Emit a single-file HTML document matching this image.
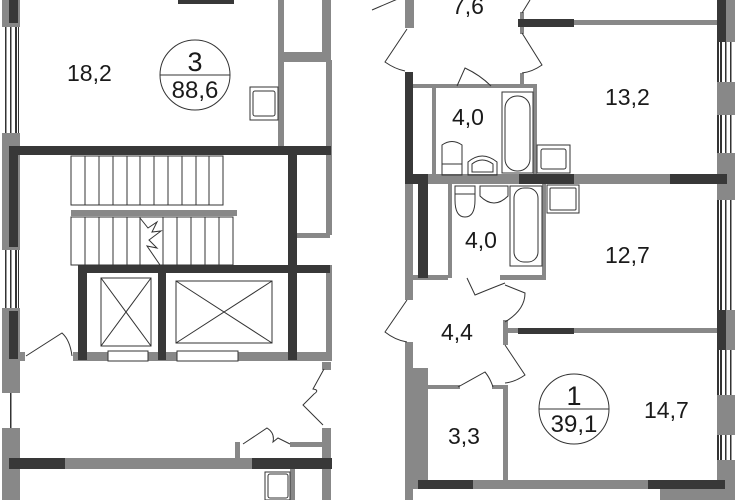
<!DOCTYPE html>
<html><head><meta charset="utf-8"><style>
html,body{margin:0;padding:0;background:#fff;width:735px;height:500px;overflow:hidden}
text{font-family:"Liberation Sans",sans-serif;fill:#1a1a1a}
</style></head><body>
<svg width="735" height="500" viewBox="0 0 735 500" xmlns="http://www.w3.org/2000/svg">
<defs>
<pattern id="win" width="18" height="4" patternUnits="userSpaceOnUse">
<rect width="18" height="4" fill="#fff"/>
<rect x="0" width="2" height="4" fill="#333"/><rect x="5" width="1.5" height="4" fill="#333"/><rect x="10" width="1.5" height="4" fill="#333"/><rect x="15" width="2" height="4" fill="#333"/>
</pattern>
</defs>
<g fill="#888">
<rect x="2" y="0" width="18" height="27"/>
<rect x="3" y="27" width="16" height="106" fill="url(#win)"/>
<rect x="2" y="133" width="18" height="117"/>
<rect x="3" y="250" width="16" height="58" fill="url(#win)"/>
<rect x="2" y="308" width="18" height="85"/>
<rect x="8" y="393" width="6" height="35" fill="url(#win)"/>
<rect x="2" y="428" width="18" height="72"/>
<rect x="278" y="0" width="6" height="146"/>
<rect x="322" y="0" width="9" height="60"/>
<rect x="283" y="52" width="48" height="10"/>
<rect x="326" y="60" width="6" height="175"/>
<rect x="297" y="233" width="33" height="5"/>
<rect x="71" y="210" width="166" height="6"/>
<rect x="73" y="352" width="258" height="9"/>
<rect x="326" y="265" width="6" height="96"/>
<rect x="20" y="352" width="5" height="9"/>
<rect x="322" y="362" width="9" height="8"/>
<rect x="322" y="428" width="9" height="72"/>
<rect x="235" y="442" width="5" height="16"/>
<rect x="290" y="442" width="32" height="5"/>
<rect x="9" y="458" width="323" height="11"/>
<rect x="290" y="469" width="5" height="31"/>
<rect x="405" y="0" width="9" height="28"/>
<rect x="520" y="12" width="4" height="22"/>
<rect x="520" y="73" width="4" height="12"/>
<rect x="413" y="84" width="124" height="4"/>
<rect x="432" y="88" width="4" height="87"/>
<rect x="533" y="84" width="4" height="91"/>
<rect x="405" y="174" width="322" height="10"/>
<rect x="405" y="184" width="8" height="86"/>
<rect x="448" y="184" width="4" height="94"/>
<rect x="542" y="184" width="4" height="96"/>
<rect x="500" y="275" width="46" height="5"/>
<rect x="413" y="275" width="35" height="5"/>
<rect x="518" y="20" width="199" height="5"/>
<rect x="405" y="270" width="8" height="30"/>
<rect x="503" y="320" width="5" height="25"/>
<rect x="405" y="342" width="8" height="158"/>
<rect x="413" y="368" width="15" height="112"/>
<rect x="428" y="385" width="32" height="4"/>
<rect x="492" y="385" width="16" height="4"/>
<rect x="503" y="388" width="5" height="92"/>
<rect x="505" y="328" width="212" height="5"/>
<rect x="405" y="480" width="320" height="9"/>
<rect x="660" y="489" width="75" height="11"/>
<rect x="717" y="0" width="18" height="42"/>
<rect x="717" y="42" width="18" height="40" fill="url(#win)"/>
<rect x="717" y="82" width="18" height="33"/>
<rect x="717" y="115" width="18" height="38" fill="url(#win)"/>
<rect x="717" y="153" width="18" height="47"/>
<rect x="717" y="200" width="18" height="110" fill="url(#win)"/>
<rect x="717" y="310" width="18" height="40"/>
<rect x="717" y="350" width="18" height="45" fill="url(#win)"/>
<rect x="717" y="395" width="18" height="40"/>
<rect x="717" y="435" width="18" height="25" fill="url(#win)"/>
<rect x="717" y="460" width="18" height="40"/>
</g>
<g fill="#383838">
<rect x="9" y="0" width="9" height="23"/>
<rect x="178" y="0" width="56" height="4"/>
<rect x="9" y="146" width="322" height="9"/>
<rect x="9" y="155" width="9" height="92"/>
<rect x="9" y="311" width="9" height="48"/>
<rect x="288" y="155" width="9" height="205"/>
<rect x="80" y="265" width="250" height="8"/>
<rect x="78" y="265" width="9" height="95"/>
<rect x="158" y="265" width="8" height="95"/>
<rect x="9" y="458" width="56" height="11"/>
<rect x="252" y="458" width="80" height="11"/>
<rect x="518" y="19" width="56" height="8"/>
<rect x="717" y="0" width="9" height="42"/>
<rect x="405" y="72" width="8" height="103"/>
<rect x="405" y="174" width="23" height="10"/>
<rect x="519" y="174" width="55" height="10"/>
<rect x="670" y="174" width="57" height="10"/>
<rect x="418" y="184" width="10" height="94"/>
<rect x="518" y="328" width="56" height="6"/>
<rect x="717" y="310" width="9" height="40"/>
<rect x="418" y="480" width="55" height="9"/>
<rect x="648" y="480" width="77" height="9"/>
</g>
<g fill="none" stroke="#333" stroke-width="1">
<rect x="71" y="156" width="152" height="49"/>
<path d="M85 156V205M99 156V205M113 156V205M127 156V205M140 156V205M154 156V205M168 156V205M182 156V205M196 156V205M209 156V205"/>
<rect x="71" y="217" width="162" height="48"/>
<path d="M85 217V265M99 217V265M113 217V265M127 217V265M140 217V265M163 217V265M177 217V265M191 217V265M205 217V265M219 217V265"/>
<path d="M140 218 L148 228 L157 222 L152 232 L161 231 L149 240 L157 248 L147 246 L160 265"/>
<rect x="101" y="278" width="50" height="68"/><path d="M101 278L151 346M151 278L101 346"/>
<rect x="176" y="281" width="96" height="62"/><path d="M176 281L272 343M176 343L272 281"/>
<rect x="108" y="351" width="40" height="10" fill="#fff"/>
<rect x="177" y="351" width="61" height="10" fill="#fff"/>
<rect x="250" y="87" width="28" height="33" fill="#fff"/><rect x="253" y="91" width="22" height="25" rx="2"/>
<rect x="265" y="472" width="25" height="28" fill="#fff"/><rect x="268" y="474" width="20" height="24" rx="2"/>
<path d="M26 356 L62 333 Q70 340 72 356"/>
<path d="M324 369 L313 389 Q320 390 314 394 L303 405 L323 425"/>
<path d="M243 444 L267 428 Q275 433 273 442 L278 438 L290 444"/>
<rect x="502" y="92" width="31" height="81"/><rect x="505" y="96" width="25" height="75" rx="12"/>
<rect x="537" y="145" width="33" height="28" fill="#fff"/><rect x="541" y="149" width="25" height="20" rx="2"/>
<path d="M442 145 Q452 138 462 145 V175 H442Z"/><path d="M442 164H462"/>
<path d="M468 175 V162 Q482 150 497 162 V175Z"/><path d="M472 172 V164 Q482 156 493 164 V172Z"/>
<rect x="510" y="186" width="32" height="80"/><rect x="514" y="188" width="24" height="74" rx="10"/>
<rect x="547" y="185" width="32" height="28" fill="#fff"/><rect x="550" y="188" width="26" height="22" rx="1"/>
<path d="M455 186 H475 V200 Q475 217 465 217 Q455 217 455 200Z"/><path d="M455 194H475"/>
<path d="M480 186 H508 V196 Q494 210 480 196Z"/>
<path d="M407 -5 L372 10"/>
<path d="M407 29 L385 62 Q395 69 405 71"/>
<path d="M522 13 L530 0"/>
<path d="M522 33 L542 65 Q532 72 522 73"/>
<path d="M457 86 L465 68 Q480 75 491 86"/>
<path d="M407 300 L385 332 Q395 340 407 342"/>
<path d="M467 278 L475 295 Q492 288 505 283"/>
<path d="M505 285 L525 293 Q525 310 505 322"/>
<path d="M505 345 L525 375 Q515 382 505 383"/>
<path d="M458 387 L485 372 Q490 378 493 387"/>
</g>
<g font-size="23">
<text x="67" y="81">18,2</text>
<text x="452" y="14">7,6</text>
<text x="452" y="125">4,0</text>
<text x="605" y="105">13,2</text>
<text x="465" y="248">4,0</text>
<text x="605" y="263">12,7</text>
<text x="441" y="340">4,4</text>
<text x="448" y="444">3,3</text>
<text x="644" y="418">14,7</text>
</g>
<g fill="none" stroke="#333" stroke-width="1">
<circle cx="195" cy="75" r="35"/><path d="M160 75H230"/>
<circle cx="574" cy="409" r="35"/><path d="M539 409H609"/>
</g>
<text x="195" y="71" font-size="27" text-anchor="middle">3</text>
<text x="195" y="98" font-size="24" text-anchor="middle">88,6</text>
<text x="574" y="405" font-size="27" text-anchor="middle">1</text>
<text x="574" y="432" font-size="24" text-anchor="middle">39,1</text>
</svg>
</body></html>
